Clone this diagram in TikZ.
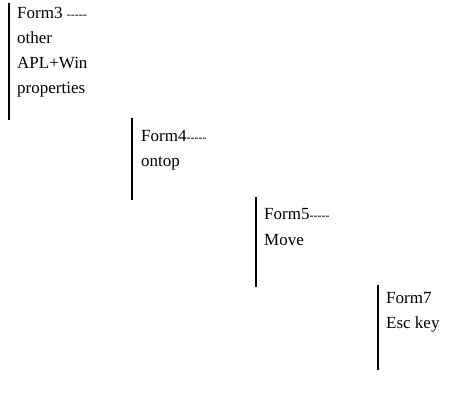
\documentclass[tikz,border=0pt]{standalone}
\usepackage{fontspec}
\setmainfont{Liberation Serif}
\newcommand{\dsh}{{\fontsize{12}{12}\selectfont -{}-{}-{}-{}-}}
\begin{document}
\begin{tikzpicture}[x=1pt,y=-1pt,
  lbl/.style={anchor=base west, inner sep=0pt, font=\fontsize{17}{19}\selectfont},
  bar/.style={line width=1.1pt}]
\useasboundingbox (0,0) rectangle (459,395);
% block 1
\coordinate (b1t) at (9,3); \coordinate (b1b) at (9,120);
\draw[bar] (b1t) -- (b1b);
\node[lbl] (f3a) at (17,19) {Form3 \dsh};
\node[lbl] (f3b) at (17,44) {other};
\node[lbl] (f3c) at (17,69) {APL+Win};
\node[lbl] (f3d) at (17,94) {properties};
% block 2
\coordinate (b2t) at (132,118); \coordinate (b2b) at (132,200);
\draw[bar] (b2t) -- (b2b);
\node[lbl] (f4a) at (141,142) {Form4\dsh};
\node[lbl] (f4b) at (141,167) {ontop};
% block 3
\coordinate (b3t) at (256,197); \coordinate (b3b) at (256,287);
\draw[bar] (b3t) -- (b3b);
\node[lbl] (f5a) at (264,220) {Form5\dsh};
\node[lbl] (f5b) at (264,246) {Move};
% block 4
\coordinate (b4t) at (378,285); \coordinate (b4b) at (378,370);
\draw[bar] (b4t) -- (b4b);
\node[lbl] (f7a) at (386,304) {Form7};
\node[lbl] (f7b) at (386,329) {Esc key};
\end{tikzpicture}
\end{document}
